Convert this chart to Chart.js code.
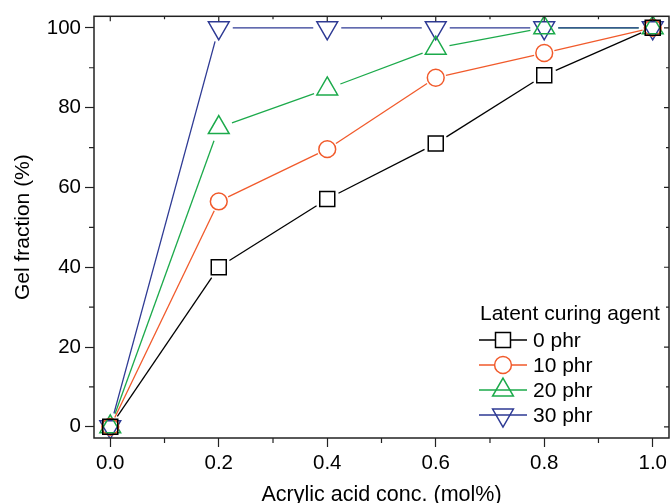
<!DOCTYPE html>
<html>
<head>
<meta charset="utf-8">
<script src="https://cdn.jsdelivr.net/npm/chart.js@4.4.1/dist/chart.umd.min.js"></script>
<style>
  html, body { margin: 0; padding: 0; background: #fff; }
  #wrap { width: 671px; height: 503px; }
</style>
</head>
<body>
<div id="wrap"><canvas id="myChart" width="671" height="503"></canvas></div>
<script>
// values
const acrylic = [0, 0.2, 0.4, 0.6, 0.8, 1.0];
const phr0  = [0, 40, 57.1, 71, 88.1, 100];
const phr10 = [0, 56.5, 69.6, 87.5, 93.7, 100];
const phr20 = [0, 75, 84.7, 94.9, 100, 100];
const phr30 = [0, 100, 100, 100, 100, 100];
const seriesNames = ['0 phr', '10 phr', '20 phr', '30 phr'];
const xTicks = [0, 0.2, 0.4, 0.6, 0.8, 1.0];
const yTicks = [0, 20, 40, 60, 80, 100];
const xMinor = [0.1, 0.3, 0.5, 0.7, 0.9];
const yMinor = [10, 30, 50, 70, 90];

const FONT = "'Liberation Sans', Arial, sans-serif";
const ctx = document.getElementById('myChart');

function pts(ys) {
    return acrylic.map((x, i) => ({ x: x, y: ys[i] }));
}

const styles = [
    { color: '#000000', shape: 'rect', r: 10.6, rot: 0 },
    { color: '#f15a2b', shape: 'circle', r: 8.4, rot: 0 },
    { color: '#1caa4b', shape: 'triangle', r: 12, rot: 0 },
    { color: '#2e3a94', shape: 'triangle', r: 12, rot: 180 }
];

// lines stop short of the markers, like the original plot
const gapLines = {
    id: 'gap_lines',
    beforeDatasetsDraw: (chart) => {
        const c = chart.ctx;
        c.save();
        chart.data.datasets.forEach((ds, i) => {
            const meta = chart.getDatasetMeta(i);
            const p = meta.data;
            const gap = ds.gap;
            c.strokeStyle = ds.borderColor;
            c.lineWidth = 1.3;
            for (let k = 0; k < p.length - 1; k++) {
                const dx = p[k + 1].x - p[k].x, dy = p[k + 1].y - p[k].y;
                const len = Math.sqrt(dx * dx + dy * dy);
                if (len <= 2 * gap) continue;
                const ux = dx / len, uy = dy / len;
                c.beginPath();
                c.moveTo(p[k].x + ux * gap, p[k].y + uy * gap);
                c.lineTo(p[k + 1].x - ux * gap, p[k + 1].y - uy * gap);
                c.stroke();
            }
        });
        c.restore();
    }
};

// frame, minor ticks, inner ticks on top/right, legend inside plot
const frame = {
    id: 'frame_legend',
    afterDraw: (chart) => {
        const c = chart.ctx;
        const a = chart.chartArea;
        const xs = chart.scales.x, ys = chart.scales.y;
        c.save();
        c.strokeStyle = '#222';
        c.lineWidth = 1.5;
        c.strokeRect(a.left, a.top, a.right - a.left, a.bottom - a.top);

        c.lineWidth = 1.2;
        c.beginPath();
        xMinor.forEach(v => {
            const px = xs.getPixelForValue(v);
            c.moveTo(px, a.bottom); c.lineTo(px, a.bottom + 5);
            c.moveTo(px, a.top); c.lineTo(px, a.top + 3);
        });
        xTicks.forEach(v => {
            const px = xs.getPixelForValue(v);
            c.moveTo(px, a.top); c.lineTo(px, a.top + 5);
        });
        yMinor.forEach(v => {
            const py = ys.getPixelForValue(v);
            c.moveTo(a.left, py); c.lineTo(a.left - 5, py);
            c.moveTo(a.right, py); c.lineTo(a.right - 3, py);
        });
        yTicks.forEach(v => {
            const py = ys.getPixelForValue(v);
            c.moveTo(a.right, py); c.lineTo(a.right - 5, py);
        });
        c.stroke();

        // legend
        c.fillStyle = '#000';
        c.font = '21px ' + FONT;
        c.textAlign = 'left';
        c.textBaseline = 'middle';
        c.fillText('Latent curing agent', 480, 314);
        const rowY = [340, 365, 390, 415];
        chart.data.datasets.forEach((ds, i) => {
            const y = rowY[i];
            const cx = 503;
            const half = ds.legendHalf;
            c.strokeStyle = ds.borderColor;
            c.lineWidth = 1.3;
            c.beginPath();
            c.moveTo(479, y); c.lineTo(cx - half, y);
            c.moveTo(cx + half, y); c.lineTo(527, y);
            c.stroke();
            c.lineWidth = 1.5;
            c.fillStyle = 'rgba(0,0,0,0)';
            Chart.helpers.drawPoint(c, {
                pointStyle: ds.pointStyle,
                radius: ds.pointRadius,
                rotation: ds.pointRotation,
                borderWidth: 1.5
            }, cx, y);
            c.fillStyle = '#000';
            c.fillText(seriesNames[i], 533, y + 1);
        });
        c.restore();
    }
};

const series = [phr0, phr10, phr20, phr30];

const myChart = new Chart(ctx, {
    type: 'scatter',
    data: {
        datasets: series.map((s, i) => ({
            label: seriesNames[i],
            data: pts(s),
            showLine: false,
            borderColor: styles[i].color,
            backgroundColor: 'rgba(0,0,0,0)',
            pointStyle: styles[i].shape,
            pointRadius: styles[i].r,
            pointHoverRadius: styles[i].r,
            pointRotation: styles[i].rot,
            pointBorderWidth: 1.5,
            gap: styles[i].r + 2,
            legendHalf: styles[i].shape === 'rect' ? 7.5 : (styles[i].shape === 'circle' ? 8.4 : 0)
        }))
    },
    options: {
        responsive: false,
        animation: false,
        events: [],
        layout: { autoPadding: false, padding: { top: 15, right: 1, left: 0, bottom: 0 } },
        plugins: {
            legend: { display: false },
            tooltip: { enabled: false }
        },
        scales: {
            x: {
                type: 'linear',
                min: -0.03,
                max: 1.03,
                afterFit: (s) => { s.height = 65; },
                afterBuildTicks: (s) => { s.ticks = xTicks.map(v => ({ value: v })); },
                grid: { drawOnChartArea: false, tickLength: 9, tickColor: '#222', tickWidth: 1.2 },
                border: { display: false },
                ticks: {
                    color: '#000',
                    padding: 4,
                    maxRotation: 0,
                    font: { family: FONT, size: 20.5 },
                    callback: (v) => v.toFixed(1)
                },
                title: {
                    display: true,
                    text: 'Acrylic acid conc. (mol%)',
                    color: '#000',
                    font: { family: FONT, size: 21.5, lineHeight: 0.75 },
                    padding: { top: 0, bottom: 0 }
                }
            },
            y: {
                min: -2.8,
                max: 102.9,
                afterFit: (s) => { s.width = 94; },
                afterBuildTicks: (s) => { s.ticks = yTicks.map(v => ({ value: v })); },
                grid: { drawOnChartArea: false, tickLength: 9, tickColor: '#222', tickWidth: 1.2 },
                border: { display: false },
                ticks: {
                    color: '#000',
                    padding: 4,
                    font: { family: FONT, size: 20.5 }
                },
                title: {
                    display: true,
                    text: 'Gel fraction (%)',
                    color: '#000',
                    font: { family: FONT, size: 21 },
                    padding: { top: 11, bottom: 0 }
                }
            }
        }
    },
    plugins: [gapLines, frame]
});
</script>
</body>
</html>
